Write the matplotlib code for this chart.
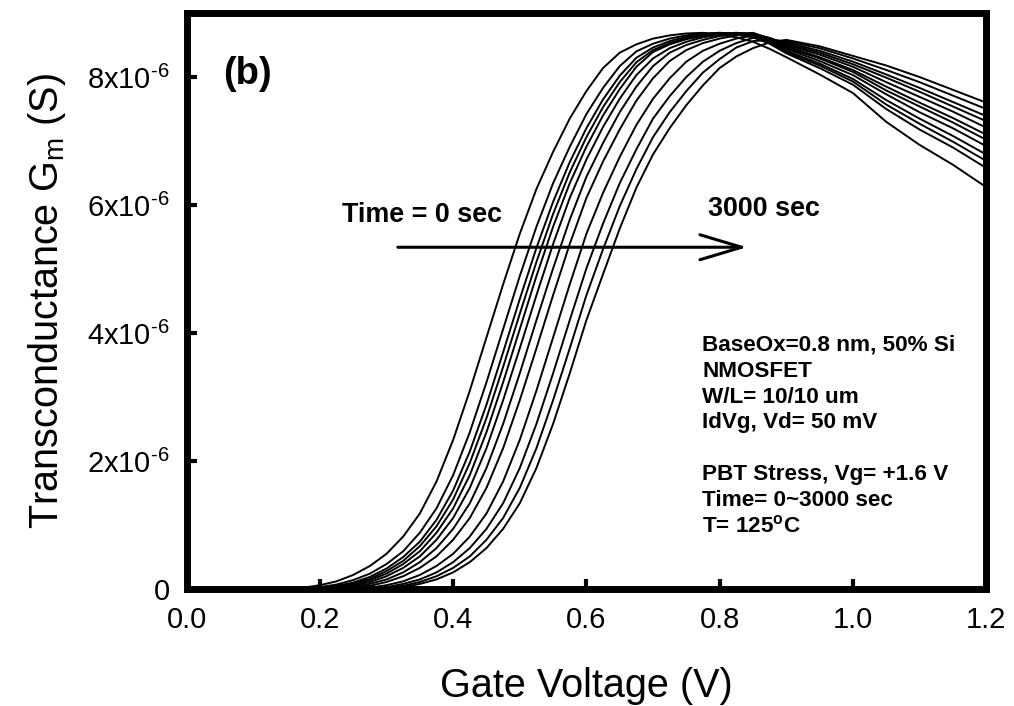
import numpy as np
import matplotlib
matplotlib.use('Agg')
import matplotlib.pyplot as plt

plt.rcParams['font.family'] = ['Liberation Sans', 'DejaVu Sans']
plt.rcParams['mathtext.fontset'] = 'custom'
plt.rcParams['mathtext.rm'] = 'Liberation Sans'
plt.rcParams['mathtext.it'] = 'Liberation Sans:italic'
plt.rcParams['mathtext.bf'] = 'Liberation Sans:bold'

# Gate voltage grid (V): finer on the rising edge, coarser on the tail
volts = [0.150, 0.175, 0.200, 0.225, 0.250, 0.275, 0.300, 0.325, 0.350, 0.375,
         0.400, 0.425, 0.450, 0.475, 0.500, 0.525, 0.550, 0.575, 0.600, 0.625,
         0.650, 0.675, 0.700, 0.725, 0.750, 0.775, 0.800, 0.825, 0.850, 0.875,
         0.900, 0.950, 1.000, 1.050, 1.100, 1.150, 1.200]

# Transconductance (uS), one curve per stress time, 0 sec -> 3000 sec
gm_t00 = [0.00, 0.02, 0.06, 0.12, 0.22, 0.36, 0.55, 0.82, 1.18, 1.68, 2.33, 3.10, 3.93, 4.76, 5.55, 6.25, 6.83, 7.35, 7.78, 8.14,
          8.38, 8.51, 8.60, 8.65, 8.68, 8.69, 8.66, 8.62, 8.55, 8.44, 8.31, 8.04, 7.75, 7.30, 6.94, 6.63, 6.28]
gm_t01 = [0.00, 0.00, 0.03, 0.07, 0.14, 0.24, 0.39, 0.59, 0.88, 1.26, 1.78, 2.45, 3.23, 4.06, 4.89, 5.66, 6.34, 6.91, 7.42, 7.83,
          8.17, 8.40, 8.52, 8.60, 8.65, 8.68, 8.69, 8.66, 8.62, 8.52, 8.37, 8.14, 7.88, 7.50, 7.18, 6.90, 6.58]
gm_t02 = [0.00, 0.00, 0.01, 0.05, 0.10, 0.19, 0.32, 0.50, 0.74, 1.08, 1.54, 2.15, 2.88, 3.70, 4.53, 5.33, 6.05, 6.67, 7.20, 7.65,
          8.02, 8.30, 8.46, 8.56, 8.63, 8.66, 8.69, 8.68, 8.64, 8.53, 8.39, 8.18, 7.93, 7.57, 7.27, 6.99, 6.69]
gm_t03 = [0.00, 0.00, 0.01, 0.04, 0.09, 0.16, 0.28, 0.44, 0.67, 0.98, 1.40, 1.97, 2.67, 3.47, 4.30, 5.11, 5.86, 6.51, 7.06, 7.53,
          7.92, 8.23, 8.42, 8.53, 8.61, 8.65, 8.68, 8.69, 8.66, 8.55, 8.41, 8.21, 7.97, 7.64, 7.35, 7.08, 6.79]
gm_t04 = [0.00, 0.00, 0.00, 0.03, 0.07, 0.14, 0.24, 0.39, 0.59, 0.88, 1.26, 1.78, 2.45, 3.23, 4.06, 4.89, 5.66, 6.34, 6.91, 7.40,
          7.81, 8.16, 8.39, 8.51, 8.59, 8.64, 8.67, 8.69, 8.67, 8.57, 8.44, 8.25, 8.03, 7.73, 7.45, 7.20, 6.92]
gm_t05 = [0.00, 0.00, 0.00, 0.02, 0.05, 0.11, 0.20, 0.33, 0.51, 0.77, 1.11, 1.58, 2.20, 2.95, 3.76, 4.59, 5.39, 6.11, 6.71, 7.22,
          7.66, 8.03, 8.29, 8.45, 8.55, 8.62, 8.66, 8.68, 8.68, 8.58, 8.46, 8.29, 8.08, 7.79, 7.54, 7.29, 7.02]
gm_t06 = [0.00, 0.00, 0.00, 0.01, 0.03, 0.08, 0.15, 0.26, 0.42, 0.64, 0.94, 1.34, 1.89, 2.58, 3.37, 4.20, 5.01, 5.77, 6.44, 6.97,
          7.45, 7.85, 8.17, 8.38, 8.50, 8.58, 8.64, 8.67, 8.69, 8.60, 8.48, 8.31, 8.11, 7.85, 7.60, 7.36, 7.10]
gm_t07 = [0.00, 0.00, 0.00, 0.00, 0.02, 0.05, 0.11, 0.20, 0.33, 0.51, 0.77, 1.11, 1.58, 2.20, 2.95, 3.76, 4.59, 5.39, 6.11, 6.68,
          7.18, 7.63, 7.98, 8.25, 8.42, 8.53, 8.60, 8.65, 8.68, 8.61, 8.50, 8.35, 8.16, 7.92, 7.69, 7.46, 7.21]
gm_t08 = [0.00, 0.00, 0.00, 0.00, 0.00, 0.02, 0.06, 0.12, 0.22, 0.36, 0.55, 0.82, 1.18, 1.68, 2.33, 3.10, 3.93, 4.76, 5.55, 6.19,
          6.75, 7.25, 7.66, 7.98, 8.24, 8.41, 8.52, 8.60, 8.65, 8.61, 8.52, 8.38, 8.20, 7.99, 7.77, 7.54, 7.31]
gm_t09 = [0.00, 0.00, 0.00, 0.00, 0.00, 0.01, 0.03, 0.08, 0.15, 0.26, 0.42, 0.64, 0.94, 1.34, 1.89, 2.58, 3.37, 4.20, 5.01, 5.71,
          6.34, 6.87, 7.35, 7.70, 8.00, 8.24, 8.41, 8.53, 8.61, 8.59, 8.54, 8.41, 8.24, 8.04, 7.83, 7.61, 7.39]
gm_t10 = [0.00, 0.00, 0.00, 0.00, 0.00, 0.00, 0.02, 0.05, 0.11, 0.20, 0.33, 0.51, 0.77, 1.11, 1.58, 2.20, 2.95, 3.76, 4.59, 5.31,
          5.98, 6.56, 7.06, 7.45, 7.78, 8.07, 8.28, 8.46, 8.56, 8.58, 8.56, 8.45, 8.29, 8.11, 7.92, 7.71, 7.50]
gm_t11 = [0.00, 0.00, 0.00, 0.00, 0.00, 0.00, 0.01, 0.03, 0.08, 0.15, 0.26, 0.42, 0.64, 0.94, 1.34, 1.89, 2.58, 3.37, 4.20, 4.92,
          5.63, 6.27, 6.79, 7.20, 7.56, 7.87, 8.14, 8.32, 8.45, 8.54, 8.58, 8.48, 8.33, 8.18, 8.00, 7.80, 7.60]

x_ticks = [0.0, 0.2, 0.4, 0.6, 0.8, 1.0, 1.2]
x_tick_labels = ['0.0', '0.2', '0.4', '0.6', '0.8', '1.0', '1.2']
y_ticks = [0, 2e-6, 4e-6, 6e-6, 8e-6]
y_tick_labels = ['0', r'2x10$^{\text{-}6}$', r'4x10$^{\text{-}6}$',
                 r'6x10$^{\text{-}6}$', r'8x10$^{\text{-}6}$']

info_lines = ['BaseOx=0.8 nm, 50% Si', 'NMOSFET', 'W/L= 10/10 um',
              'IdVg, Vd= 50 mV', '', 'PBT Stress, Vg= +1.6 V',
              'Time= 0~3000 sec', r'T= 125$^\mathbf{o}$C']


def main() -> None:
    fig = plt.figure(figsize=(10.14, 7.06), dpi=100)
    ax = fig.add_axes([0.1841, 0.1657, 0.7884, 0.8159])

    curves = [gm_t00, gm_t01, gm_t02, gm_t03, gm_t04, gm_t05,
              gm_t06, gm_t07, gm_t08, gm_t09, gm_t10, gm_t11]
    v = np.array(volts)
    for gm in curves:
        ax.plot(v, np.array(gm) * 1e-6, color='black', lw=1.4)

    ax.set_xlim(0, 1.2)
    ax.set_ylim(0, 9e-6)

    ax.set_xticks(x_ticks)
    ax.set_xticklabels(x_tick_labels)
    ax.set_yticks(y_ticks)
    ax.set_yticklabels(y_tick_labels)
    ax.tick_params(direction='in', length=7, width=3, labelsize=21, pad=12,
                   top=False, right=False)

    for sp in ax.spines.values():
        sp.set_linewidth(5)

    ax.set_xlabel('Gate Voltage (V)', fontsize=28.5, labelpad=24)
    ax.set_ylabel(r'Transconductance G$_\mathrm{m}$ (S)', fontsize=28.5, labelpad=14)

    # annotations
    ax.text(0.055, 8.05e-6, '(b)', fontsize=27.5, fontweight='bold', va='center')
    ax.text(0.233, 5.85e-6, 'Time = 0 sec', fontsize=19.4, fontweight='bold', va='center')
    ax.text(0.783, 5.93e-6, '3000 sec', fontsize=19.4, fontweight='bold', va='center')
    ax.annotate('', xy=(0.841, 5.34e-6), xytext=(0.317, 5.34e-6),
                arrowprops=dict(arrowstyle='->,head_length=1.5,head_width=0.45',
                                lw=2.2, color='black', mutation_scale=20,
                                shrinkA=0, shrinkB=0))

    for i, line in enumerate(info_lines):
        ax.text(0.774, 3.81e-6 - i * 0.405e-6, line, fontsize=16.2,
                fontweight='bold', va='center')

    fig.savefig('out.png', dpi=100)


if __name__ == '__main__':
    main()
